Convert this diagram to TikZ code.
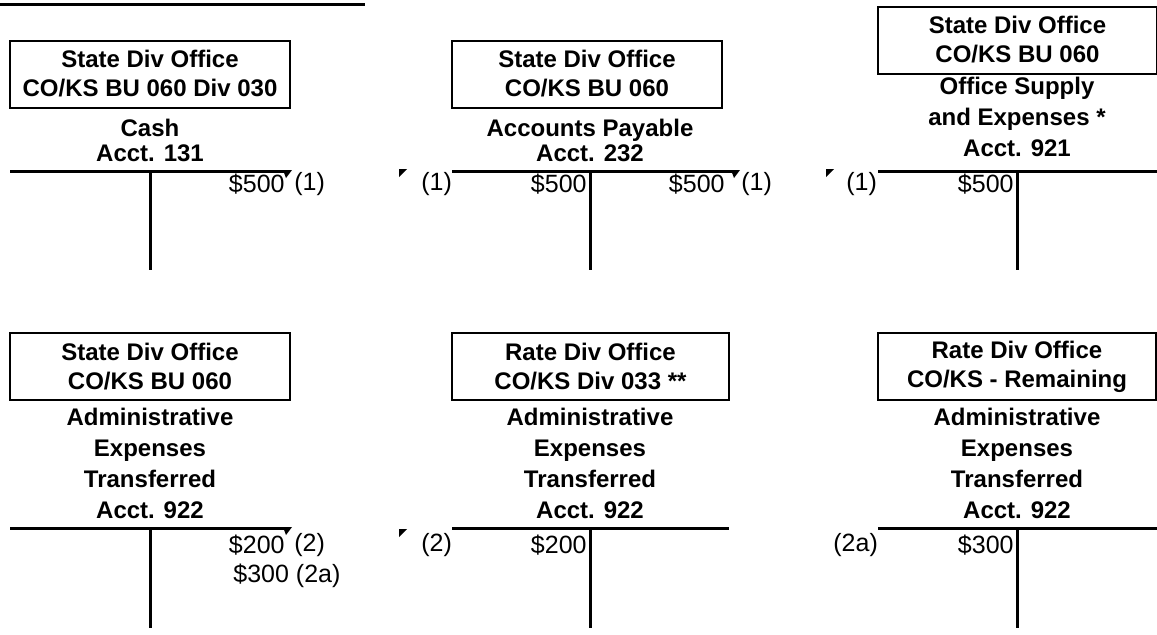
\documentclass[tikz,border=0pt]{standalone}
\usepackage{fontspec}
\setmainfont{Liberation Sans}
\begin{document}
\begin{tikzpicture}[x=0.5pt,y=-0.5pt,
  office/.style={draw, line width=1pt, minimum width=140pt, minimum height=33.5pt, align=center, inner sep=0pt, font=\bfseries\fontsize{12}{14.5}\selectfont},
  acct/.style={align=center, inner sep=0pt, font=\bfseries\fontsize{12}{15.5}\selectfont},
  short acct/.style={acct, font=\bfseries\fontsize{12}{12.5}\selectfont},
  amt/.style={inner sep=0pt, font=\fontsize{12.5}{14}\selectfont},
  tline/.style={line width=1.5pt},
  tip/.style={fill=black}]
	  \useasboundingbox (0,0) rectangle (1157,634);
	  \draw[tline] (0,4) -- (365,4);
	  
	  % top row
	  \node[office] (box1) at (150,74) {State Div Office\\CO/KS BU 060 Div 030};
	  \node[short acct] (cash) at (150,140) {Cash\\Acct. 131};
	  \draw[tline] (10,171) -- (290,171);
	  \draw[tline] (150,171) -- (150,270);
	  \node[amt, anchor=east] (cash cr) at (285,184) {\$500};
	  \node[amt, anchor=west] (cash ref) at (294,184) {(1)};
	  \fill[tip] (283,170) -- (292,170) -- (286,178) -- cycle;
	  
	  \node[office, minimum width=135pt] (box2) at (587,74) {State Div Office\\CO/KS BU 060};
	  \node[short acct] (payable) at (590,140) {Accounts Payable\\Acct. 232};
	  \draw[tline] (452,171) -- (738,171);
	  \draw[tline] (590,171) -- (590,270);
	  \fill[tip] (399,169) -- (407,169) -- (399,177) -- cycle;
	  \node[amt, anchor=west] (payable dref) at (421,184) {(1)};
	  \node[amt, anchor=east] (payable dr) at (587,184) {\$500};
	  \node[amt, anchor=east] (payable cr) at (725,184) {\$500};
	  \node[amt, anchor=west] (payable cref) at (741,184) {(1)};
	  \fill[tip] (731,170) -- (740,170) -- (734,178) -- cycle;
	  
	  \node[office, minimum width=139.5pt] (box3) at (1017.5,40) {State Div Office\\CO/KS BU 060};
	  \node[acct] (supply) at (1017,117) {Office Supply\\and Expenses *\\Acct. 921};
	  \draw[tline] (878,171) -- (1157,171);
	  \draw[tline] (1017,171) -- (1017,270);
	  \fill[tip] (826,169) -- (834,169) -- (826,177) -- cycle;
	  \node[amt, anchor=west] (supply ref) at (846,184) {(1)};
	  \node[amt, anchor=east] (supply dr) at (1014,184) {\$500};
	  
	  % bottom row
	  \node[office] (box4) at (150,366.5) {State Div Office\\CO/KS BU 060};
	  \node[acct] (admin) at (150,463) {Administrative\\Expenses\\Transferred\\Acct. 922};
	  \draw[tline] (10,528) -- (290,528);
	  \draw[tline] (150,528) -- (150,628);
	  \node[amt, anchor=east] (admin cr) at (285,545) {\$200};
	  \node[amt, anchor=west] (admin ref) at (294,545) {(2)};
	  \node[amt, anchor=west] (admin cr2) at (233,576) {\$300 (2a)};
	  \fill[tip] (283,527) -- (292,527) -- (286,535) -- cycle;
	  
	  \node[office, minimum width=138.5pt] (box5) at (590.5,366.5) {Rate Div Office\\CO/KS Div 033 **};
	  \node[acct] (rate) at (590,463) {Administrative\\Expenses\\Transferred\\Acct. 922};
	  \draw[tline] (452,528) -- (729,528);
	  \draw[tline] (590,528) -- (590,628);
	  \fill[tip] (399,529) -- (407,529) -- (399,537) -- cycle;
	  \node[amt, anchor=west] (rate ref) at (421,545) {(2)};
	  \node[amt, anchor=east] (rate dr) at (587,545) {\$200};
	  
	  \node[office, minimum width=139pt] (box6) at (1017,366.5) {Rate Div Office\\CO/KS - Remaining};
	  \node[acct] (remain) at (1017,463) {Administrative\\Expenses\\Transferred\\Acct. 922};
	  \draw[tline] (878,528) -- (1157,528);
	  \draw[tline] (1017,528) -- (1017,628);
	  \node[amt, anchor=west] (remain ref) at (833,545) {(2a)};
	  \node[amt, anchor=east] (remain dr) at (1014,545) {\$300};
	\end{tikzpicture}
\end{document}
